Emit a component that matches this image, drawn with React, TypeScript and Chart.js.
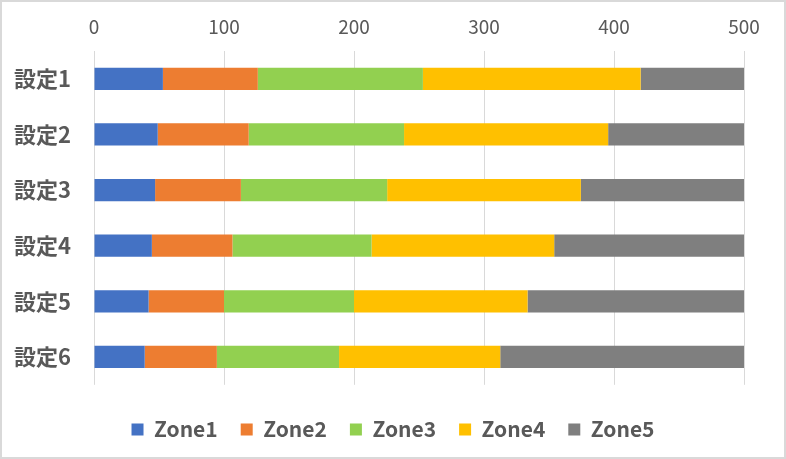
import React, { useEffect, useRef } from "react";
import { Chart, registerables } from "chart.js";

Chart.register(...registerables);

const categories = ["設定1", "設定2", "設定3", "設定4", "設定5", "設定6"];
const zone1 = [53, 49, 47, 44.5, 42, 39];
const zone2 = [73, 70, 66, 62, 58, 55.5];
const zone3 = [127, 119.5, 112.5, 107, 100, 94];
const zone4 = [167.5, 157, 149, 140.5, 133.5, 124];
const zone5 = [79.5, 104.5, 125.5, 146, 166.5, 187.5];
const seriesNames = ["Zone1", "Zone2", "Zone3", "Zone4", "Zone5"];
const seriesColors = ["#4472C4", "#ED7D31", "#92D050", "#FFC000", "#7F7F7F"];
const xMin = 0;
const xMax = 500;
const xStep = 100;

const FONT = "'Noto Sans CJK JP', 'Noto Sans', sans-serif";

const centerLegend = {
  id: "centerLegend",
  beforeDraw(chart: any) {
    const l = chart.legend;
    if (!l) return;
    l.left = 0;
    l.right = chart.width;
    l.width = chart.width;
  },
};

export default function App() {
  const ref = useRef<HTMLCanvasElement | null>(null);

  useEffect(() => {
    document.body.style.margin = "0";
    if (!ref.current) return;
    const values = [zone1, zone2, zone3, zone4, zone5];
    const chart = new Chart(ref.current, {
      type: "bar",
      data: {
        labels: categories,
        datasets: seriesNames.map((name, i) => ({
          label: name,
          data: values[i],
          backgroundColor: seriesColors[i],
          borderWidth: 0,
          categoryPercentage: 1,
          barPercentage: 0.4,
        })),
      },
      plugins: [centerLegend],
      options: {
        indexAxis: "y",
        animation: false,
        responsive: true,
        maintainAspectRatio: false,
        layout: { padding: { left: 0, right: 42, top: 0, bottom: 9 } },
        scales: {
          x: {
            position: "top",
            stacked: true,
            min: xMin,
            max: xMax,
            ticks: {
              stepSize: xStep,
              color: "#595959",
              padding: 13,
              font: { family: FONT, size: 19 },
            },
            grid: { color: "#d9d9d9", lineWidth: 1, drawTicks: false },
            border: { display: false },
            afterFit: (s: any) => {
              s.height = 51;
            },
          },
          y: {
            stacked: true,
            ticks: {
              color: "#595959",
              padding: 23,
              font: { family: FONT, size: 22, weight: "bold" },
            },
            grid: { display: false, drawTicks: false },
            border: { display: false },
            afterFit: (s: any) => {
              s.width = 94;
            },
          },
        },
        plugins: {
          legend: {
            position: "bottom",
            title: { display: true, text: "", padding: { top: 10, bottom: 0 }, font: { size: 1 } },
            labels: {
              boxWidth: 12,
              boxHeight: 12,
              padding: 23,
              color: "#595959",
              font: { family: FONT, size: 21, weight: "bold" },
            },
          },
          tooltip: { enabled: false },
        },
      },
    });
    return () => chart.destroy();
  }, []);

  return (
    <div
      style={{
        position: "relative",
        width: 786,
        height: 459,
        boxSizing: "border-box",
        border: "2px solid #d9d9d9",
        background: "#fff",
      }}
    >
      <div style={{ position: "absolute", left: -2, top: -2, width: 786, height: 459 }}>
        <canvas ref={ref} />
      </div>
    </div>
  );
}
